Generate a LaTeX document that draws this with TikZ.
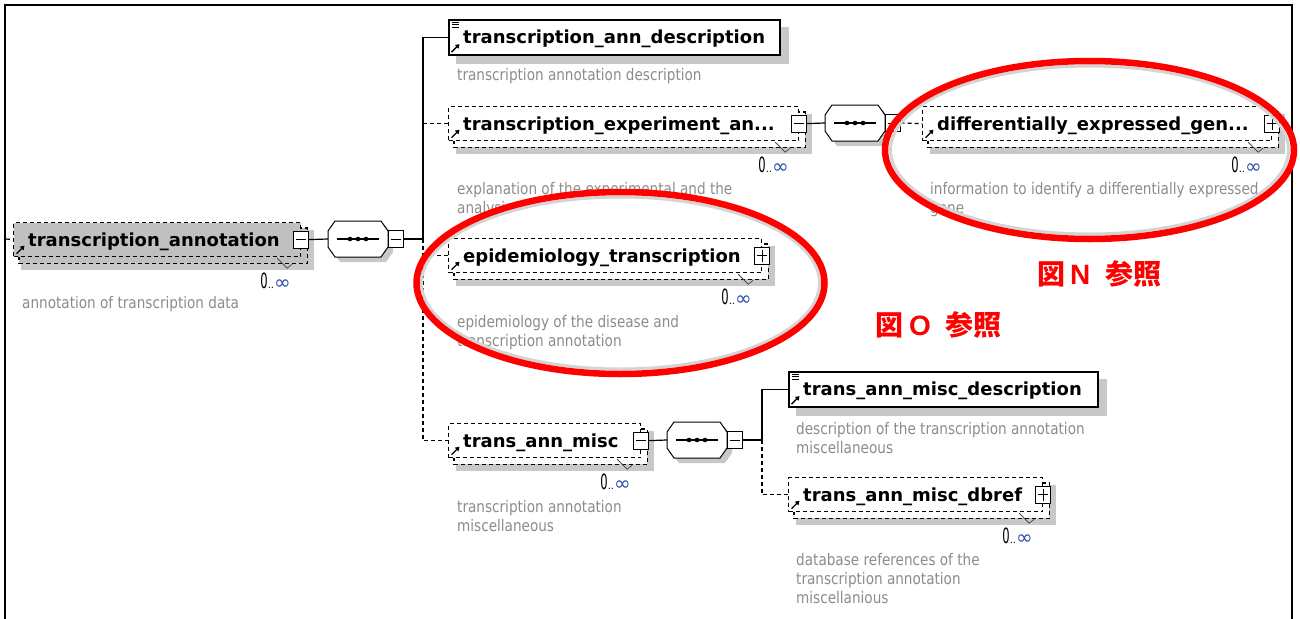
\documentclass[tikz,border=0pt]{standalone}
\usepackage{fontspec}
\setmainfont{DejaVu Sans}
\newfontfamily\descfont{DejaVu Sans}[FakeStretch=0.85]
\newfontfamily\narrowfont{DejaVu Sans}[FakeStretch=0.55]
\newfontfamily\cjkfont{Noto Sans CJK JP}
\newfontfamily\latinred{Liberation Sans}
\usetikzlibrary{calc,arrows.meta}
\pgfdeclarelayer{paperlayer}
\pgfdeclarelayer{shadowlayer}
\pgfdeclarelayer{backlayer}
\pgfsetlayers{paperlayer,shadowlayer,backlayer,main}

\definecolor{shadowc}{RGB}{200,200,200}
\definecolor{rootfill}{RGB}{192,192,192}
\definecolor{descgray}{RGB}{140,140,140}
\definecolor{infblue}{RGB}{40,80,170}
\definecolor{redmark}{RGB}{255,0,0}
\definecolor{ringgray}{RGB}{212,212,212}

\tikzset{
  elbox/.style={draw=black, fill=white, anchor=north west, inner sep=0pt},
  reqline/.style={line width=1.6pt, solid},
  optline/.style={line width=1.2pt, dash pattern=on 4pt off 3pt},
  eltext/.style={anchor=base west, inner sep=0pt, font=\bfseries\fontsize{18}{20}\selectfont},
  desc/.style={anchor=base west, inner sep=0pt, align=left, text=descgray, font=\descfont\fontsize{16}{19}\selectfont},
  conn/.style={line width=1.2pt, draw=black},
  optconn/.style={conn, dash pattern=on 4pt off 3pt},
  btn/.style={draw=black, fill=white, line width=1pt, minimum width=15, minimum height=17, inner sep=0pt},
  seqhold/.style={minimum width=60, minimum height=36, inner sep=0pt},
  multtext/.style={anchor=base west, inner sep=0pt},
  redring/.style={draw=redmark, line width=6.5pt},
  innerring/.style={draw=ringgray, line width=3pt},
  redlabel/.style={anchor=base west, inner sep=0pt, text=redmark, font=\bfseries\fontsize{28}{30}\selectfont},
}

\newcommand\singleshadow[1]{\begin{pgfonlayer}{shadowlayer}\fill[shadowc] ($(#1.north west)+(8,8)$) rectangle ($(#1.south east)+(8,8)$);\end{pgfonlayer}}
\newcommand\multiback[2]{\begin{pgfonlayer}{shadowlayer}\fill[shadowc] ($(#1.north west)+(8,8)$) rectangle ($(#1.south east)+(13,13)$);\end{pgfonlayer}%
\begin{pgfonlayer}{backlayer}\draw[optline, fill=#2] ($(#1.north west)+(6,6)$) rectangle ($(#1.south east)+(6,6)$);\end{pgfonlayer}}
\newcommand\minusmark[1]{\draw[line width=1pt] ($(#1.center)+(-5,0)$) -- ($(#1.center)+(5,0)$);}
\newcommand\plusmark[1]{\minusmark{#1}\draw[line width=1pt] ($(#1.center)+(0,-6)$) -- ($(#1.center)+(0,6)$);}
\newcommand\refarrow[1]{\draw[line width=1.3pt, -{Triangle[length=4pt,width=5pt]}] ($(#1.south west)+(3.5,-3.5)$) -- ($(#1.south west)+(11.5,-11.5)$);}
\newcommand\simplemark[1]{\foreach \k in {3,5.5,8}{\draw[line width=0.8pt] ($(#1.north west)+(3.5,\k)$) -- ($(#1.north west)+(11,\k)$);}}
\newcommand\multlabel[1]{%
 \draw[line width=0.8pt, black!70] ($(#1.south east)+(-24,1)$) -- ($(#1.south east)+(-14,11)$) -- ($(#1.south east)+(-9,7)$);
 \node[multtext] (#1m) at ($(#1.south east)+(-41,31)$) {{\narrowfont\fontsize{21}{21}\selectfont 0}{\fontsize{10}{10}\selectfont ..}{\color{infblue}\fontsize{20}{20}\selectfont\raisebox{-1.5pt}{∞}}};}
\newcommand\seqoct[1]{%
 \begin{pgfonlayer}{shadowlayer}\begin{scope}[shift={($(#1.center)+(5,5)$)}]\fill[shadowc] (-30,-8) -- (-23,-18) -- (23,-18) -- (30,-8) -- (30,8) -- (23,18) -- (-23,18) -- (-30,8) -- cycle;\end{scope}\end{pgfonlayer}%
 \begin{scope}[shift={(#1.center)}]
 \draw[line width=1pt, fill=white] (-30,-8) -- (-23,-18) -- (23,-18) -- (30,-8) -- (30,8) -- (23,18) -- (-23,18) -- (-30,8) -- cycle;
 \draw[line width=1.4pt] (-21,0) -- (21,0);
 \foreach \k in {-8,0,8}{\fill (\k,0) circle[radius=2.3pt];}
 \end{scope}}

\begin{document}
\begin{tikzpicture}[x=1pt,y=-1pt]
\useasboundingbox (0,0) rectangle (1300,618);
\begin{pgfonlayer}{paperlayer}\fill[white] (0,0) rectangle (1300,618);\end{pgfonlayer}

% frame
\draw[line width=2.2pt] (5,625) -- (5,5) -- (1292,5) -- (1292,625);

% root element
\node[elbox, optline, fill=rootfill, minimum width=287, minimum height=34] (R) at (13,222) {};
\multiback{R}{rootfill}
\node[eltext] (Rt) at ($(R.west)+(15,6.5)$) {transcription\_annotation};
\refarrow{R}
\node[btn] (Rb) at (R.east) {}; \minusmark{Rb}
\multlabel{R}
\node[desc] (Rd) at (22,308) {annotation of transcription data};
\coordinate (Rin) at (6,239);
\draw[optconn] (Rin) -- (R.west);

% sequence 1
\node[seqhold] (S1) at (358,239) {};
\seqoct{S1}
\node[btn] (S1b) at ($(S1.east)+(7.5,0)$) {}; \minusmark{S1b}
\draw[conn] (Rb.east) -- (S1.west);
\coordinate (B1) at (423,239);
\draw[conn] (S1b.east) -- (B1);

% transcription_ann_description
\node[elbox, reqline, minimum width=331, minimum height=35] (T1) at (448,19) {};
\singleshadow{T1}
\node[eltext] (T1t) at ($(T1.west)+(15,6.5)$) {transcription\_ann\_description};
\simplemark{T1}\refarrow{T1}
\node[desc] (T1d) at (457,81) {transcription annotation description};

% transcription_experiment_an...
\node[elbox, optline, minimum width=350, minimum height=34] (T2) at (448,106) {};
\multiback{T2}{white}
\node[eltext] (T2t) at ($(T2.west)+(15,6.5)$) {transcription\_experiment\_an...};
\refarrow{T2}
\node[btn] (T2b) at (T2.east) {}; \minusmark{T2b}
\multlabel{T2}
\node[desc] (T2d) at (457,213) {explanation of the experimental and the\\analysis};

% sequence 2
\node[seqhold] (S2) at (855,123) {};
\seqoct{S2}
\node[btn] (S2b) at ($(S2.east)+(7.5,0)$) {}; \minusmark{S2b}
\draw[conn] (T2b.east) -- (S2.west);

% differentially_expressed_gen...
\node[elbox, optline, minimum width=349, minimum height=34] (T2a) at (922,106) {};
\multiback{T2a}{white}
\node[eltext] (T2at) at ($(T2a.west)+(15,6.5)$) {differentially\_expressed\_gen...};
\refarrow{T2a}
\node[btn] (T2ab) at (T2a.east) {}; \plusmark{T2ab}
\multlabel{T2a}
\node[desc] (T2ad) at (930,213) {information to identify a differentially expressed\\gene};
\draw[optconn] (S2b.east) -- (T2a.west);

% epidemiology_transcription
\node[elbox, optline, minimum width=313, minimum height=34] (T3) at (448,238) {};
\multiback{T3}{white}
\node[eltext] (T3t) at ($(T3.west)+(15,6.5)$) {epidemiology\_transcription};
\refarrow{T3}
\node[btn] (T3b) at (T3.east) {}; \plusmark{T3b}
\multlabel{T3}
\node[desc] (T3d) at (457,346) {epidemiology of the disease and\\transcription annotation};

% trans_ann_misc
\node[elbox, optline, minimum width=192, minimum height=34] (T4) at (448,423) {};
\multiback{T4}{white}
\node[eltext] (T4t) at ($(T4.west)+(15,6.5)$) {trans\_ann\_misc};
\refarrow{T4}
\node[btn] (T4b) at (T4.east) {}; \minusmark{T4b}
\multlabel{T4}
\node[desc] (T4d) at (457,531) {transcription annotation\\miscellaneous};

% bus 1
\draw[conn] (T1.west) -| (B1);
\draw[optconn] (B1 |- T2.west) -- (T2.west);
\draw[optconn] (B1) |- (T4.west);
\draw[optconn] (B1 |- T3.west) -- (T3.west);

% sequence 3
\node[seqhold] (S3) at (697,440) {};
\seqoct{S3}
\node[btn] (S3b) at ($(S3.east)+(7.5,0)$) {}; \minusmark{S3b}
\draw[conn] (T4b.east) -- (S3.west);
\coordinate (B2) at (762,440);
\draw[conn] (S3b.east) -- (B2);

% trans_ann_misc_description
\node[elbox, reqline, minimum width=309, minimum height=35] (D1) at (788,371) {};
\singleshadow{D1}
\node[eltext] (D1t) at ($(D1.west)+(15,6.5)$) {trans\_ann\_misc\_description};
\simplemark{D1}\refarrow{D1}
\node[desc] (D1d) at (796,453) {description of the transcription annotation\\miscellaneous};

% trans_ann_misc_dbref
\node[elbox, optline, minimum width=254, minimum height=34] (D2) at (788,477) {};
\multiback{D2}{white}
\node[eltext] (D2t) at ($(D2.west)+(15,6.5)$) {trans\_ann\_misc\_dbref};
\refarrow{D2}
\node[btn] (D2b) at (D2.east) {}; \plusmark{D2b}
\multlabel{D2}
\node[desc] (D2d) at (796,603) {database references of the\\transcription annotation\\miscellanious};

% bus 2
\draw[conn] (B2) |- (D1.west);
\draw[optconn] (B2) |- (D2.west);

% red marks
\coordinate (E1) at (1089.5,150);
\draw[innerring] (E1) ellipse [x radius=199pt, y radius=84pt];
\draw[redring] (E1) ellipse [x radius=204.5pt, y radius=89pt];
\coordinate (E2) at (620.5,283);
\draw[innerring] (E2) ellipse [x radius=199pt, y radius=86pt];
\draw[redring] (E2) ellipse [x radius=204pt, y radius=91pt];
\node[redlabel] (LN) at (1037,284) {{\cjkfont 図}\hspace{5pt}{\latinred N}\hspace{15pt}{\cjkfont 参照}};
\node[redlabel] (LO) at (875,335) {{\cjkfont 図}\hspace{6pt}{\latinred O}\hspace{15pt}{\cjkfont 参照}};
\end{tikzpicture}
\end{document}
